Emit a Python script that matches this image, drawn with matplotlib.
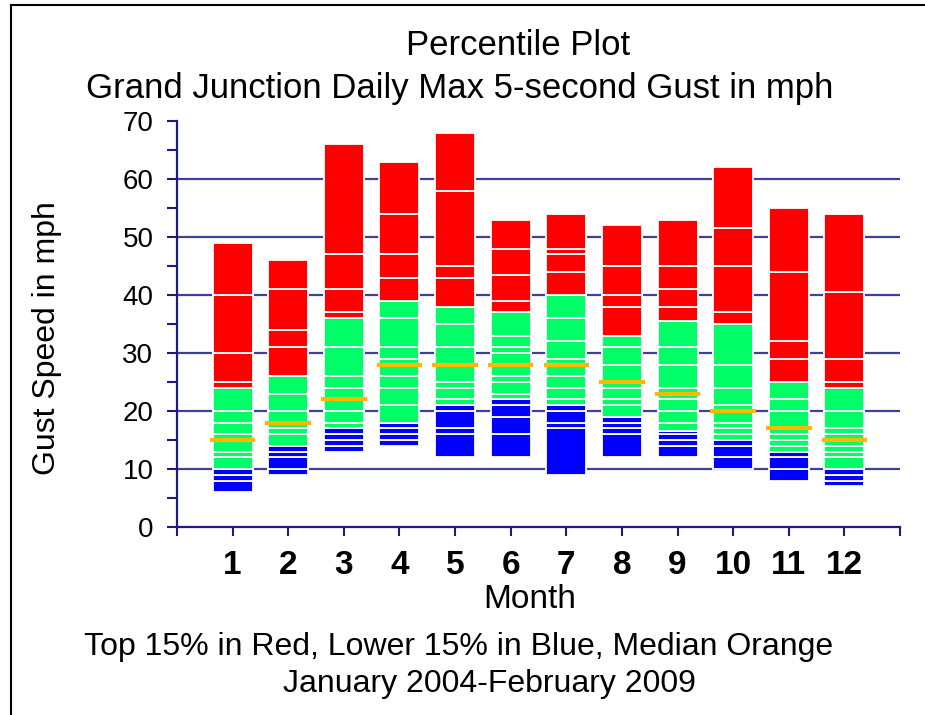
import matplotlib
matplotlib.use("Agg")
import matplotlib.pyplot as plt
from matplotlib.lines import Line2D
from matplotlib.ticker import MultipleLocator

plt.rcParams['font.family'] = ['Liberation Sans', 'DejaVu Sans']

# === data: percentile boundaries (mph), ascending, per month ===
months = list(range(1, 13))
blue_edges = [
    [6, 8, 9, 10], [9, 10, 12, 13, 14], [13, 14, 15, 16, 17], [14, 15, 16, 17, 18],
    [12, 16, 17, 20, 21], [12, 16, 19, 21, 22], [9, 17, 18, 20, 21], [12, 16, 17, 18, 19],
    [12, 14, 15, 16, 16.5], [10, 12, 14, 15], [8, 10, 12, 13], [7, 8, 9, 10],
]
green_edges = [
    [10, 12, 13, 16, 18, 20, 24], [14, 16, 17, 20, 23, 26], [17, 18, 20, 24, 26, 31, 36],
    [18, 21, 24, 26, 29, 31, 36, 39], [21, 22, 24, 25, 31, 35, 38],
    [22, 23, 25, 26, 30, 31, 33, 37], [21, 22, 24, 26, 29, 32, 36, 40],
    [19, 21, 22, 24, 28, 31, 33], [16.5, 18, 20, 22, 24, 28, 31, 35.5],
    [15, 16, 17, 18, 21, 24, 28, 35], [13, 14, 15, 16, 20, 22, 25],
    [10, 12, 13, 14, 16, 17, 20, 24],
]
red_edges = [
    [24, 25, 30, 40, 49], [26, 31, 34, 41, 46], [36, 37, 41, 47, 66], [39, 43, 47, 54, 63],
    [38, 43, 45, 58, 68], [37, 39, 43.5, 48, 53], [40, 44, 47, 48, 54], [33, 38, 40, 45, 52],
    [35.5, 38, 41, 45, 53], [35, 37, 45, 51.5, 62], [25, 29, 32, 44, 55], [24, 25, 29, 40.5, 54],
]
medians = [15, 18, 22, 28, 28, 28, 28, 25, 23, 20, 17, 15]

W, H = 925, 715
fig = plt.figure(figsize=(W / 100, H / 100), dpi=100)
ax = fig.add_axes([177 / W, 1 - 527 / H, (900 - 177) / W, (527 - 121) / H])

navy = "#1c1c80"
grid_c = "#40409a"

# gridlines behind bars
ax.hlines([10, 20, 30, 40, 50, 60], 0, 13, colors=grid_c, lw=1.6, zorder=1)

bw = 0.72
for m, b, g, r in zip(months, blue_edges, green_edges, red_edges):
    for edges, col in ((b, "#0000ff"), (g, "#00ff66"), (r, "#ff0000")):
        for lo, hi in zip(edges[:-1], edges[1:]):
            ax.bar(m, hi - lo, bottom=lo, width=bw, color=col,
                   edgecolor="white", linewidth=1.3, zorder=2)

ax.hlines(medians, [m - 0.41 for m in months], [m + 0.41 for m in months],
          colors="#ffb800", lw=3, zorder=3)

ax.set_xlim(0, 13)
ax.set_ylim(0, 70)
ax.set_xticks(range(0, 14))
ax.set_xticklabels([""] + [str(m) for m in months] + [""], fontsize=24, fontweight="bold")
ax.yaxis.set_major_locator(MultipleLocator(10))
ax.yaxis.set_minor_locator(MultipleLocator(5))
ax.tick_params(axis="y", which="both", direction="out", length=7, width=1.5,
               color=navy, labelsize=20, pad=10)
ax.tick_params(axis="x", direction="out", length=6.5, width=1.5, color=navy, pad=10)
for s in ("top", "right"):
    ax.spines[s].set_visible(False)
for s in ("left", "bottom"):
    ax.spines[s].set_color(navy)
    ax.spines[s].set_linewidth(1.6)

def ftext(x, y, s, **kw):
    fig.text(x / W, 1 - y / H, s, ha="center", va="baseline", **kw)

ftext(518, 55, "Percentile Plot", fontsize=25)
ftext(460, 98, "Grand Junction Daily Max 5-second Gust in mph", fontsize=25)
ftext(530, 608, "Month", fontsize=24)
ftext(459, 655, "Top 15% in Red, Lower 15% in Blue, Median Orange", fontsize=23)
ftext(489, 692, "January 2004-February 2009", fontsize=23)
fig.text(47 / W, 1 - 338 / H, "Gust Speed in mph", rotation=90,
         ha="center", va="center", fontsize=23)

# outer frame (top and left only)
fig.add_artist(Line2D([11 / W, 1], [1 - 5 / H, 1 - 5 / H], color="black", lw=1.5))
fig.add_artist(Line2D([11 / W, 11 / W], [1 - 5 / H, 0], color="black", lw=1.5))

fig.savefig("out.png", dpi=100)
